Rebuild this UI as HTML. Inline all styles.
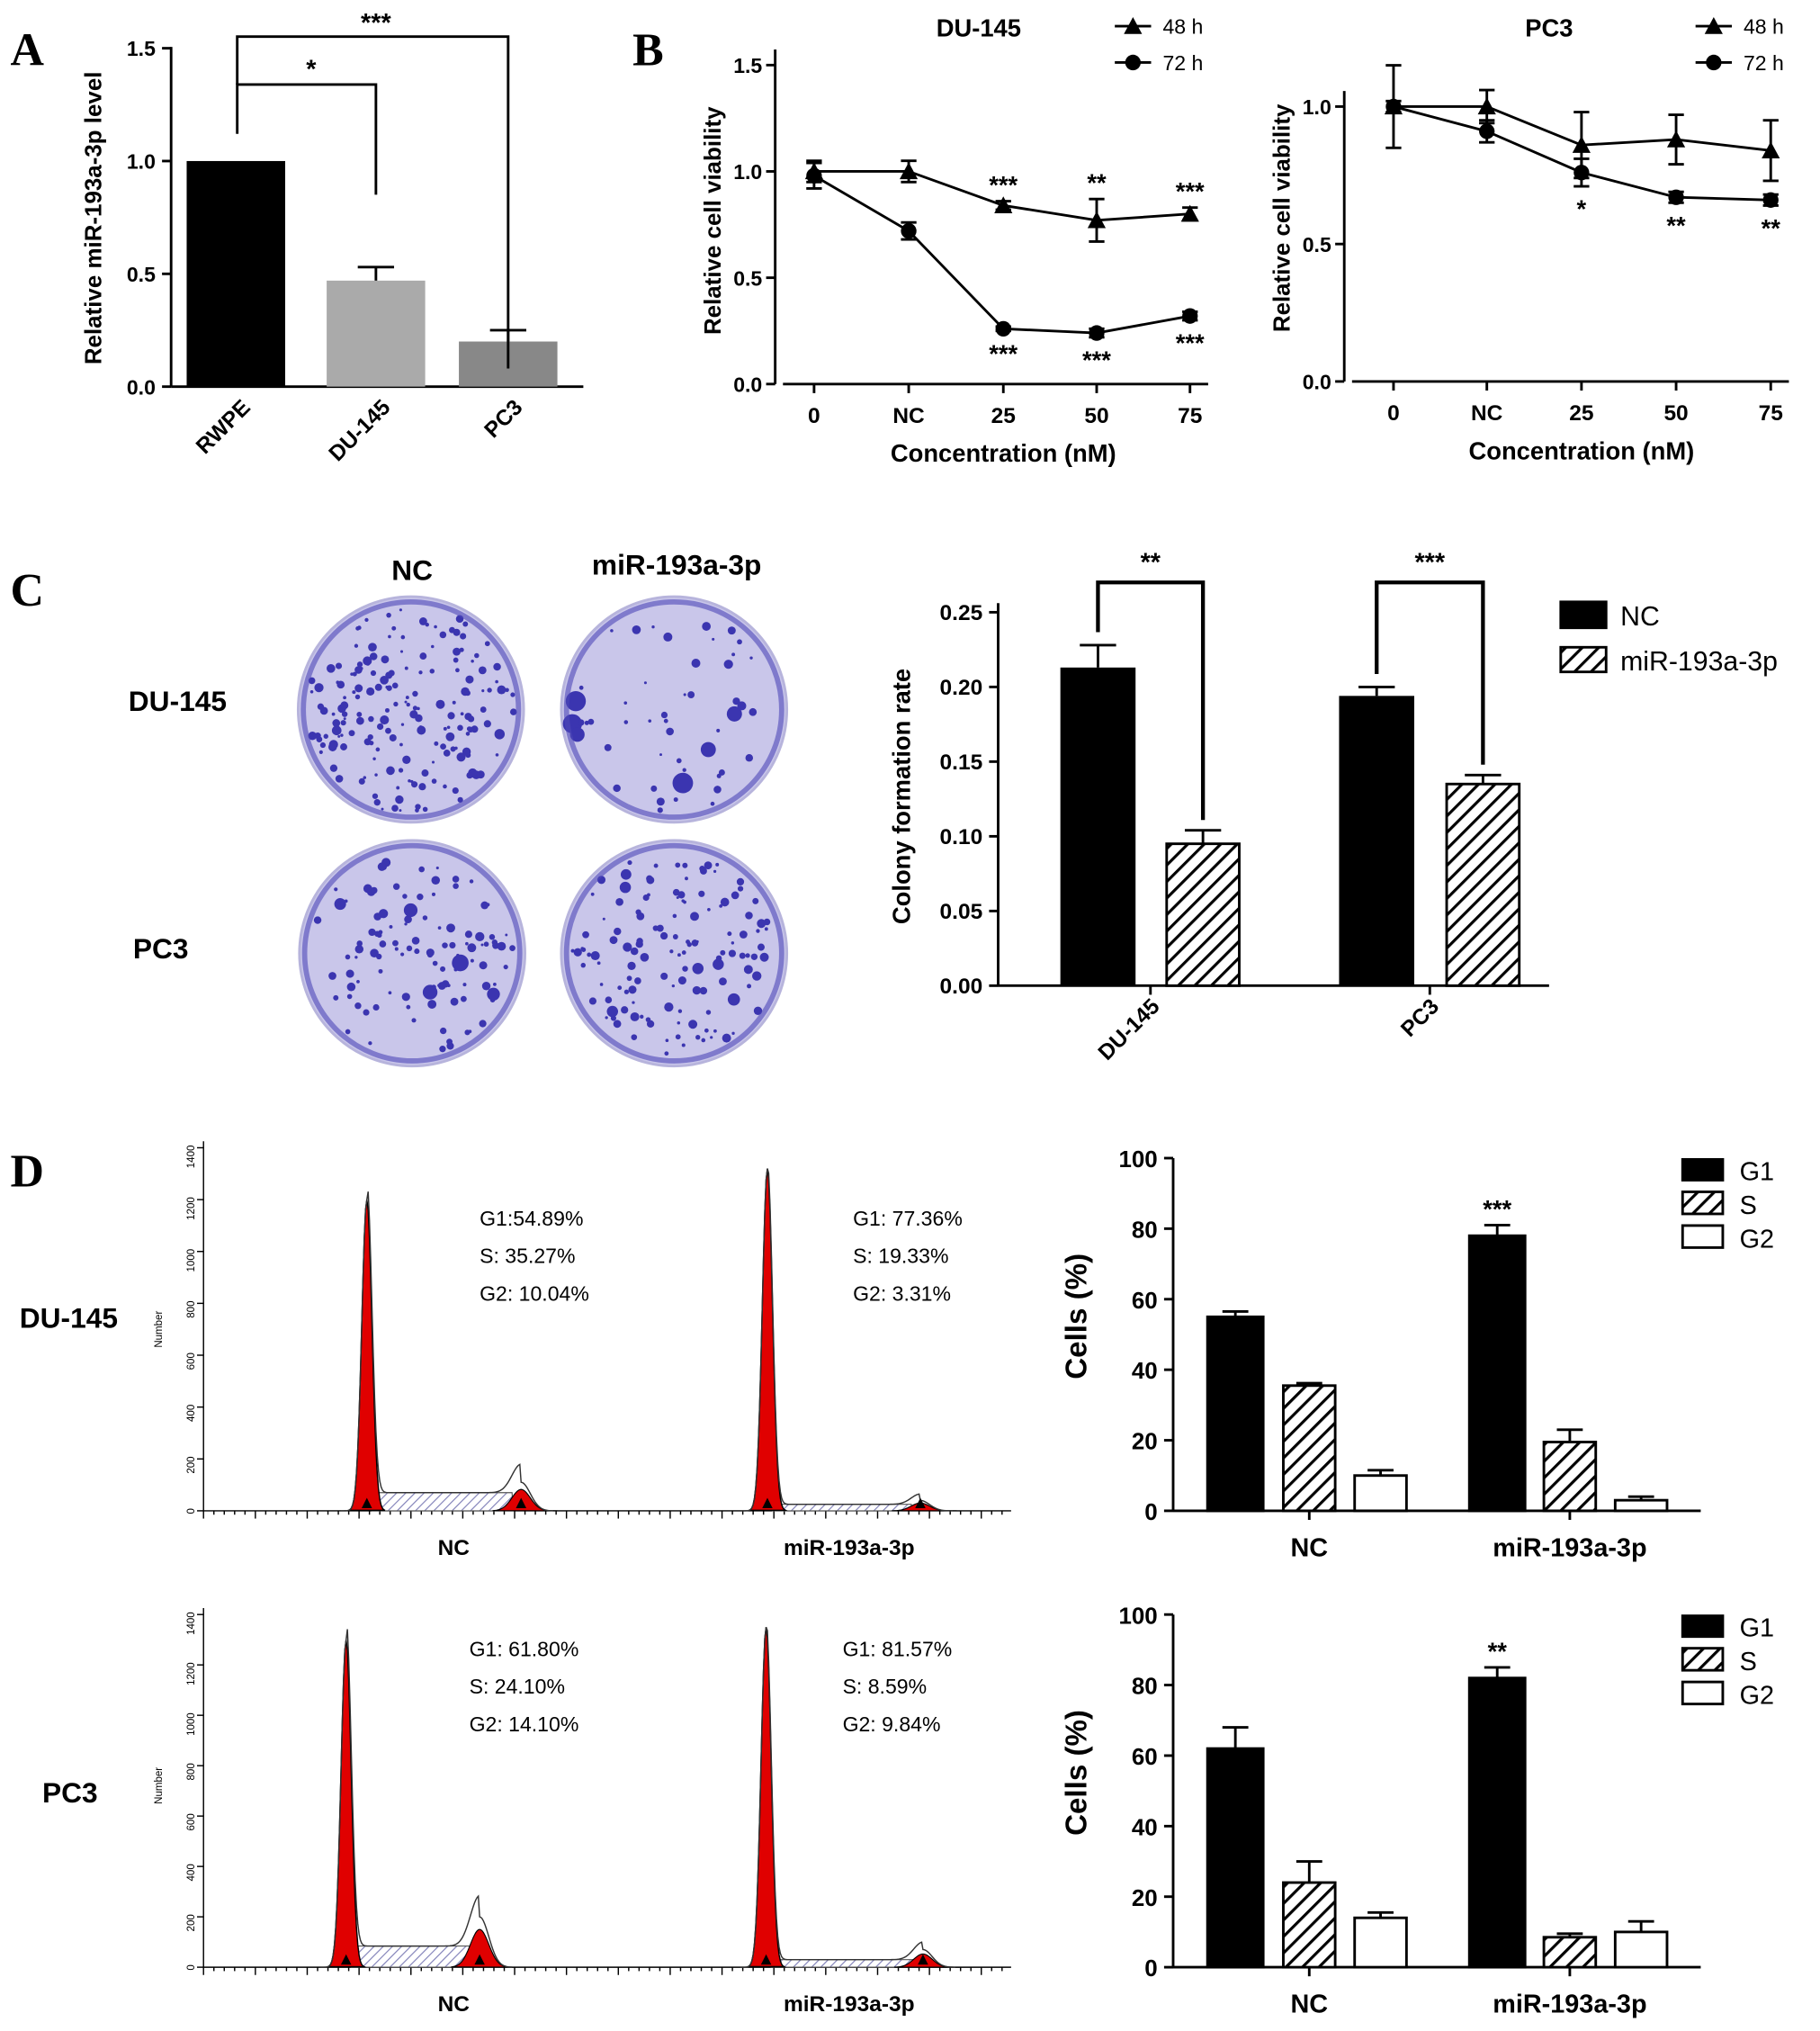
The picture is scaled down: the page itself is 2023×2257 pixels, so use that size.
<!DOCTYPE html>
<html><head><meta charset="utf-8">
<style>
html,body{margin:0;padding:0;background:#fff;}
svg{display:block;font-family:"Liberation Sans",Arial,sans-serif;}
.b{font-weight:bold}
</style></head>
<body>
<svg id="s" width="2023" height="2257" viewBox="0 0 1404 1566" xmlns="http://www.w3.org/2000/svg">
<defs>
<pattern id="hatch" patternUnits="userSpaceOnUse" width="9" height="9" patternTransform="rotate(45)">
<rect width="9" height="9" fill="#fff"/><rect x="0" y="0" width="2.2" height="9" fill="#000"/></pattern>
<pattern id="hhist" patternUnits="userSpaceOnUse" width="5" height="5" patternTransform="rotate(45)">
<rect width="5" height="5" fill="#fff"/><rect width="0.8" height="5" fill="#8080b8"/></pattern>
</defs>
<g font-family="Liberation Serif,serif" font-weight="bold" font-size="36">
<text x="8" y="50">A</text>
<text x="488" y="50">B</text>
<text x="8" y="467">C</text>
<text x="8" y="915">D</text>
</g>
</svg>
<script>
// ---------- data ----------
const aCats=["RWPE","DU-145","PC3"];
const aVals=[1.0,0.47,0.2];
const aErr=[0.0,0.06,0.05];
const bCats=["0","NC","25","50","75"];
const bDu48=[1.0,1.0,0.84,0.77,0.80];
const bDu48e=[0.05,0.05,0.02,0.1,0.03];
const bDu72=[0.98,0.72,0.26,0.24,0.32];
const bDu72e=[0.06,0.04,0.01,0.02,0.02];
const bPc48=[1.0,1.0,0.86,0.88,0.84];
const bPc48e=[0.15,0.06,0.12,0.09,0.11];
const bPc72=[1.0,0.91,0.76,0.67,0.66];
const bPc72e=[0.02,0.04,0.05,0.02,0.02];
const cCats=["DU-145","PC3"];
const cNC=[0.213,0.194];
const cNCe=[0.015,0.006];
const cMiR=[0.095,0.135];
const cMiRe=[0.009,0.006];
const dCats=["NC","miR-193a-3p"];
const dTopG1=[55,78],dTopG1e=[1.5,3],dTopS=[35.5,19.5],dTopSe=[0.7,3.5],dTopG2=[10,3],dTopG2e=[1.5,1];
const dBotG1=[62,82],dBotG1e=[6,3],dBotS=[24,8.5],dBotSe=[6,1],dBotG2=[14,10],dBotG2e=[1.5,3];
const histPeaks=[[283,1200,402,110],[592,1320,710,40],[267,1300,370,200],[591,1350,712,70]];
// ---------- helpers ----------
const S=document.getElementById('s'),NS="http://www.w3.org/2000/svg";
function el(t,a,p){const e=document.createElementNS(NS,t);for(const k in a)e.setAttribute(k,a[k]);(p||S).appendChild(e);return e;}
function tx(x,y,s,a,p){const e=el('text',Object.assign({x:x,y:y},a||{}),p);e.textContent=s;return e;}
function line(x1,y1,x2,y2,w,p){return el('line',{x1,y1,x2,y2,stroke:'#000','stroke-width':w||2},p);}
function errbar(x,yTop,yBase,hw,g){line(x,yBase,x,yTop,2,g);line(x-hw,yTop,x+hw,yTop,2,g);}
// ---------- Panel A ----------
{const g=el('g',{});
const y=v=>298-v*174, xs=[182,290,392], cols=['#000','#aaa','#888'];
line(132,298,132,36,2,g);line(132,298,450,298,2,g);
[0,0.5,1.0,1.5].forEach(v=>{line(125,y(v),132,y(v),2,g);tx(120,y(v)+6,v.toFixed(1),{'text-anchor':'end','font-size':16,class:'b'},g);});
aVals.forEach((v,i)=>{const r=el('rect',{x:xs[i]-38,y:y(v),width:76,height:298-y(v),fill:cols[i]},g);

if(aErr[i]>0)errbar(xs[i]+0,y(v+aErr[i]),y(v),14,g);
tx(0,0,aCats[i],{'text-anchor':'end','font-size':17,class:'b',transform:`translate(${xs[i]+12},${315}) rotate(-45)`},g);});
tx(0,0,'Relative miR-193a-3p level',{'text-anchor':'middle','font-size':18,class:'b',transform:'translate(78,168) rotate(-90)'},g);
el('polyline',{points:`183,103 183,65 290,65 290,150`,fill:'none',stroke:'#000','stroke-width':2},g);
tx(240,60,'*',{'text-anchor':'middle','font-size':20,class:'b'},g);
el('polyline',{points:`183,65 183,28 392,28 392,284`,fill:'none',stroke:'#000','stroke-width':2},g);
tx(290,24,'***',{'text-anchor':'middle','font-size':20,class:'b'},g);}
// ---------- Panel B ----------
function lineChart(name,ax,y0,unit,ticks,xs,s48,e48,s72,e72,title,tx0,stars48,stars72){
const g=el('g',{});
const y=v=>y0-v*unit;
line(ax,y0,ax,y(ticks[ticks.length-1])-12,2,g);line(ax+6,y0,xs[4]+14,y0,2,g);
ticks.forEach(v=>{line(ax-7,y(v),ax,y(v),2,g);tx(ax-10,y(v)+6,v.toFixed(1),{'text-anchor':'end','font-size':16,class:'b'},g);});
xs.forEach((x,i)=>{line(x,y0,x,y0+7,2,g);tx(x,y0+30,bCats[i],{'text-anchor':'middle','font-size':17,class:'b'},g);});
[[s48,e48,'tri'],[s72,e72,'dot']].forEach(([s,e,m])=>{
const p=el('polyline',{points:s.map((v,i)=>xs[i]+','+y(v)).join(' '),fill:'none',stroke:'#000','stroke-width':2},g);

s.forEach((v,i)=>{line(xs[i],y(v-e[i]),xs[i],y(v+e[i]),2,g);line(xs[i]-6,y(v-e[i]),xs[i]+6,y(v-e[i]),2,g);line(xs[i]-6,y(v+e[i]),xs[i]+6,y(v+e[i]),2,g);
if(m=='tri')el('polygon',{points:`${xs[i]-7},${y(v)+6} ${xs[i]+7},${y(v)+6} ${xs[i]},${y(v)-7}`},g);
else el('circle',{cx:xs[i],cy:y(v),r:6},g);});});
stars48.forEach((s,i)=>{if(s)tx(xs[i+2],y(s48[i+2]+e48[i+2])-6,s,{'text-anchor':'middle','font-size':19,class:'b'},g);});
stars72.forEach((s,i)=>{if(s)tx(xs[i+2],y(s72[i+2]-e72[i+2])+24,s,{'text-anchor':'middle','font-size':19,class:'b'},g);});
tx(tx0,28,title,{'text-anchor':'middle','font-size':19,class:'b'},g);
tx(xs[2],y0+60,'Concentration (nM)',{'text-anchor':'middle','font-size':19,class:'b'},g);
tx(0,0,'Relative cell viability',{'text-anchor':'middle','font-size':18,class:'b',transform:`translate(${ax-42},${y0-126}) rotate(-90)`},g);
const lx=xs[4]-58;
line(lx,20,lx+28,20,2,g);el('polygon',{points:`${lx+7},26 ${lx+21},26 ${lx+14},13`},g);tx(lx+37,26,'48 h',{'font-size':16},g);
line(lx,48,lx+28,48,2,g);el('circle',{cx:lx+14,cy:48,r:6},g);tx(lx+37,54,'72 h',{'font-size':16},g);}
lineChart('panel-b-du145-chart',598,296,164,[0,0.5,1.0,1.5],[628,701,774,846,918],bDu48,bDu48e,bDu72,bDu72e,'DU-145',755,['***','**','***'],['***','***','***']);
lineChart('panel-b-pc3-chart',1037,294,212,[0,0.5,1.0],[1075,1147,1220,1293,1366],bPc48,bPc48e,bPc72,bPc72e,'PC3',1195,[],['*','**','**']);
// ---------- Panel C plates ----------
{const g=el('g',{});
tx(318,447,'NC',{'text-anchor':'middle','font-size':22,class:'b'},g);
tx(522,443,'miR-193a-3p',{'text-anchor':'middle','font-size':22,class:'b'},g);
tx(137,548,'DU-145',{'text-anchor':'middle','font-size':22,class:'b'},g);
tx(124,739,'PC3',{'text-anchor':'middle','font-size':22,class:'b'},g);
const plates=[[317,547,18,3],[520,547,5,7],[318,735,14,6],[520,735,10,4]];
let seed=7;const rnd=()=>{seed=(seed*9301+49297)%233280;return seed/233280;};
plates.forEach(([cx,cy,small,big],k)=>{
const c=el('circle',{cx,cy,r:87,fill:'#c9c6ea',stroke:'#b7b4dc','stroke-width':2},g);

const n=[180,50,110,130][k];
for(let i=0;i<n;i++){const a=rnd()*6.283,r=Math.sqrt(rnd())*80;const rr=1+rnd()*(rnd()<0.15?big:2.6);
el('circle',{cx:cx+r*Math.cos(a),cy:cy+r*Math.sin(a),r:rr,fill:'#3b35b0'},g);}
el('circle',{cx,cy,r:83,fill:'none',stroke:'#4e48b8','stroke-width':4,opacity:0.6},g);});}
// ---------- Panel C chart ----------
{const g=el('g',{});
const y=v=>760-v*1152;
line(770,760,770,465,2,g);line(770,760,1195,760,2,g);
[0,0.05,0.1,0.15,0.2,0.25].forEach(v=>{line(763,y(v),770,y(v),2,g);tx(758,y(v)+6,v.toFixed(2),{'text-anchor':'end','font-size':17,class:'b'},g);});
const xn=[847,1062],xm=[928,1144];
cCats.forEach((c,i)=>{
const r1=el('rect',{x:xn[i]-29,y:y(cNC[i]),width:58,height:760-y(cNC[i]),fill:'#000'},g);

errbar(xn[i],y(cNC[i]+cNCe[i]),y(cNC[i]),14,g);
const r2=el('rect',{x:xm[i]-28,y:y(cMiR[i]),width:56,height:760-y(cMiR[i]),fill:'url(#hatch)',stroke:'#000','stroke-width':2},g);

errbar(xm[i],y(cMiR[i]+cMiRe[i]),y(cMiR[i]),14,g);
line((xn[i]+xm[i])/2,760,(xn[i]+xm[i])/2,767,2,g);
tx(0,0,c,{'text-anchor':'end','font-size':17,class:'b',transform:`translate(${(xn[i]+xm[i])/2+8},${777}) rotate(-45)`},g);
el('polyline',{points:`${xn[i]},${y(cNC[i]+cNCe[i])-10} ${xn[i]},449 ${xm[i]},449 ${xm[i]},${y(cMiR[i]+cMiRe[i])-8}`,fill:'none',stroke:'#000','stroke-width':3},g);
tx((xn[i]+xm[i])/2,440,i?'***':'**',{'text-anchor':'middle','font-size':20,class:'b'},g);});
tx(0,0,'Colony formation rate',{'text-anchor':'middle','font-size':19,class:'b',transform:'translate(702,614) rotate(-90)'},g);
el('rect',{x:1203,y:463,width:37,height:22,fill:'#000'},g);tx(1250,482,'NC',{'font-size':21},g);
el('rect',{x:1204,y:499,width:35,height:19,fill:'url(#hatch)',stroke:'#000','stroke-width':2},g);tx(1250,517,'miR-193a-3p',{'font-size':21},g);}
// ---------- Panel D histograms ----------
function hist(ax,y0,top,peaks,idx,labels,texts,rowName){
const g=el('g',{});
const sc=(y0-top)/1400;
line(ax,y0,ax,top-5,1,g);line(ax,y0,780,y0,1,g);
for(let v=0;v<=1400;v+=200){line(ax-5,y0-v*sc,ax,y0-v*sc,1,g);tx(ax-8,y0-v*sc+3,String(v),{'text-anchor':'end','font-size':8,transform:`rotate(-90 ${ax-10} ${y0-v*sc})`},g);}
for(let x=ax;x<=780;x+=8)line(x,y0,x,y0+(((x-ax)/8)%5==0?6:3),1,g);
tx(0,0,'Number',{'text-anchor':'middle','font-size':8,transform:`translate(${ax-32},${y0-140}) rotate(-90)`},g);
[[0,350],[1,655]].forEach(([k,lx])=>{const p=peaks[idx+k];const [c1,h1,c2,h2]=p;
const pts=[];const base=y0;
for(let x=c1-20;x<=c2+25;x+=1){let v=h1*Math.exp(-Math.pow((x-c1)/5.5,2))+h2*Math.exp(-Math.pow((x-c2)/10,2));if(x>c1&&x<c2)v+=(k?25:70)*(idx?1.2:1);pts.push(x+','+(base-v*sc));}
el('polygon',{points:`${c1+4},${base} `+pts.filter((q,i)=>{const x=c1-20+i;return x>c1+4&&x<c2-6;}).map(q=>q.split(',')[0]+','+(base-(k?25:70)*(idx?1.2:1)*sc)).join(' ')+` ${c2-6},${base}`,fill:'url(#hhist)',stroke:'#555','stroke-width':0.8},g);
const r1=[];for(let x=c1-14;x<=c1+14;x++){r1.push(x+','+(base-h1*Math.exp(-Math.pow((x-c1)/5.5,2))*sc));}
el('polygon',{points:r1.join(' '),fill:'#e00000',stroke:'#000','stroke-width':1},g);
const r2=[];for(let x=c2-22;x<=c2+28;x++){r2.push(x+','+(base-h2*0.75*Math.exp(-Math.pow((x-c2)/10,2))*sc));}
el('polygon',{points:r2.join(' '),fill:'#e00000',stroke:'#000','stroke-width':0.8},g);
el('polyline',{points:pts.join(' '),fill:'none',stroke:'#333','stroke-width':1},g);
el('polygon',{points:`${c1-4},${base-2} ${c1+4},${base-2} ${c1},${base-10}`},g);
el('polygon',{points:`${c2-4},${base-2} ${c2+4},${base-2} ${c2},${base-10}`},g);
tx([350,655][k],y0+34,labels[k],{'text-anchor':'middle','font-size':17,class:'b'},g);
texts[k].forEach((t,j)=>tx([370,658][k]-(idx?8:0),top+(idx?32:60)+j*29,t,{'font-size':16},g));});}
hist(157,1165,885,histPeaks,0,dCats,[['G1:54.89%','S: 35.27%','G2: 10.04%'],['G1: 77.36%','S: 19.33%','G2: 3.31%']],'dna-histograms-du145');
hist(157,1517,1245,histPeaks,2,dCats,[['G1: 61.80%','S: 24.10%','G2: 14.10%'],['G1: 81.57%','S: 8.59%','G2: 9.84%']],'dna-histograms-pc3');
tx(53,1024,'DU-145',{'text-anchor':'middle','font-size':22,class:'b'});
tx(54,1390,'PC3',{'text-anchor':'middle','font-size':22,class:'b'});
// ---------- Panel D bars ----------
function cellBars(y0,g1,g1e,s,se,g2,g2e,star,name){
const g=el('g',{});
const y=v=>y0-v*2.72;
line(905,y0,905,y(100),2,g);line(905,y0,1312,y0,2,g);
for(let v=0;v<=100;v+=20){line(898,y(v),905,y(v),2,g);tx(893,y(v)+7,String(v),{'text-anchor':'end','font-size':18,class:'b'},g);}
const groups=[[953,1010,1065],[1155,1211,1266]];
dCats.forEach((c,i)=>{
[[g1,g1e,'#000','g1'],[s,se,'url(#hatch)','s'],[g2,g2e,'#fff','g2']].forEach(([arr,ea,f,nm],j)=>{
const x=groups[i][j],w=j?40:43;
const r=el('rect',{x:x-w/2,y:y(arr[i]),width:w,height:y0-y(arr[i]),fill:f,stroke:'#000','stroke-width':2},g);

errbar(x,y(arr[i]+ea[i]),y(arr[i]),10,g);});
line(groups[i][1],y0,groups[i][1],y0+7,2,g);
tx(groups[i][1],y0+35,c,{'text-anchor':'middle','font-size':20,class:'b'},g);});
tx(1155,y(g1[1]+g1e[1])-6,star,{'text-anchor':'middle','font-size':19,class:'b'},g);
tx(0,0,'Cells (%)',{'text-anchor':'middle','font-size':23,class:'b',transform:`translate(838,${y0-150}) rotate(-90)`},g);
const ly=y(100);
el('rect',{x:1297,y:ly,width:33,height:18,fill:'#000'},g);tx(1342,ly+17,'G1',{'font-size':20},g);
el('rect',{x:1298,y:ly+26,width:31,height:17,fill:'url(#hatch)',stroke:'#000','stroke-width':2},g);tx(1342,ly+43,'S',{'font-size':20},g);
el('rect',{x:1298,y:ly+52,width:31,height:17,fill:'#fff',stroke:'#000','stroke-width':2},g);tx(1342,ly+69,'G2',{'font-size':20},g);}
cellBars(1165,dTopG1,dTopG1e,dTopS,dTopSe,dTopG2,dTopG2e,'***','cell-cycle-chart-du145');
cellBars(1517,dBotG1,dBotG1e,dBotS,dBotSe,dBotG2,dBotG2e,'**','cell-cycle-chart-pc3');
</script>
</body></html>
